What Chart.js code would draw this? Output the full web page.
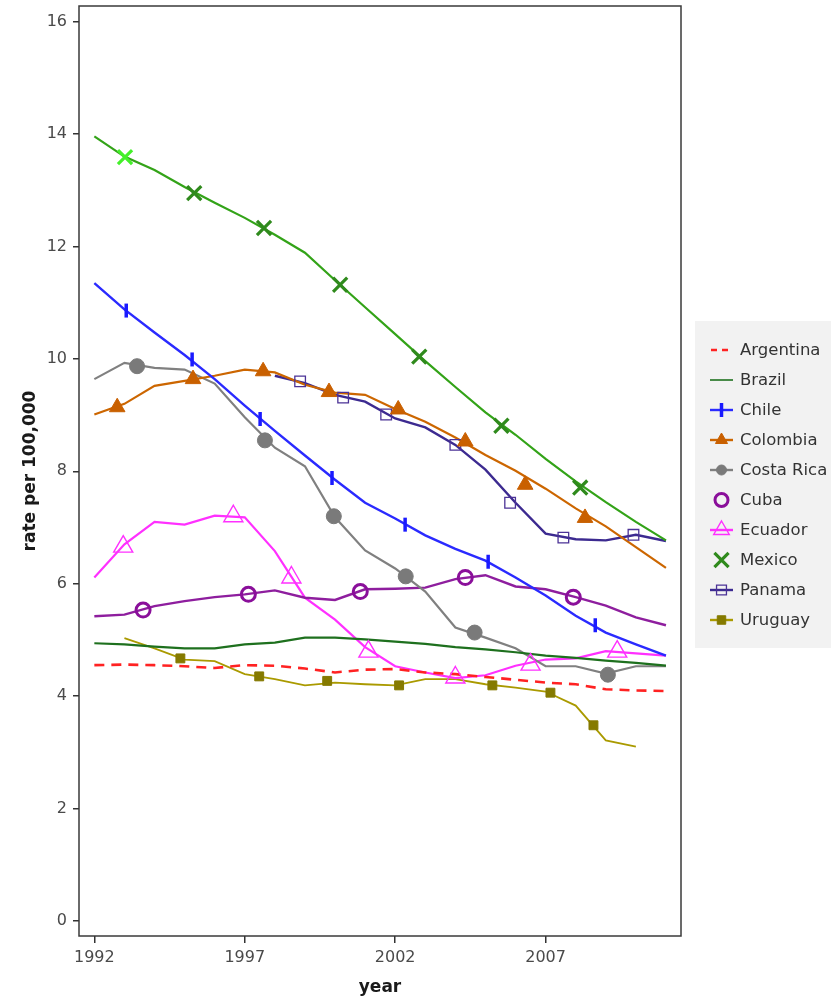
<!DOCTYPE html>
<html>
<head>
<meta charset="utf-8">
<script src="https://cdn.jsdelivr.net/npm/chart.js@4.4.1/dist/chart.umd.min.js"></script>
<style>
html, body { margin: 0; padding: 0; background: #fff; }
</style>
</head>
<body>
<canvas id="rates" width="831" height="1000"></canvas>
<script>
// data
const years = [1992,1993,1994,1995,1996,1997,1998,1999,2000,2001,2002,2003,2004,2005,2006,2007,2008,2009,2010,2011];
const yearTicks = [1992, 1997, 2002, 2007];
const rateTicks = [0, 2, 4, 6, 8, 10, 12, 14, 16];
const countries = ['Argentina','Brazil','Chile','Colombia','Costa Rica','Cuba','Ecuador','Mexico','Panama','Uruguay'];

const argentina = [4.55,4.56,4.55,4.53,4.50,4.55,4.54,4.49,4.42,4.47,4.48,4.42,4.39,4.34,4.29,4.24,4.21,4.12,4.10,4.09];
const brazil    = [4.94,4.92,4.88,4.85,4.85,4.92,4.95,5.04,5.04,5.01,4.97,4.93,4.87,4.83,4.78,4.72,4.68,4.63,4.59,4.54];
const chile     = [11.35,10.88,10.47,10.07,9.64,9.17,8.72,8.28,7.85,7.44,7.16,6.86,6.62,6.41,6.11,5.79,5.43,5.13,4.92,4.72];
const colombia  = [9.01,9.20,9.52,9.61,9.70,9.81,9.76,9.54,9.40,9.36,9.11,8.88,8.60,8.29,8.01,7.69,7.34,7.02,6.65,6.28];
const costaRica = [9.64,9.93,9.84,9.81,9.56,8.96,8.42,8.09,7.18,6.59,6.27,5.86,5.22,5.04,4.85,4.53,4.53,4.40,4.53,4.53];
const cuba      = [5.42,5.45,5.60,5.69,5.76,5.81,5.88,5.75,5.71,5.90,5.91,5.93,6.08,6.15,5.95,5.90,5.76,5.61,5.40,5.26];
const ecuador   = [6.11,6.70,7.10,7.05,7.21,7.18,6.58,5.75,5.36,4.87,4.53,4.42,4.32,4.37,4.54,4.65,4.67,4.80,4.76,4.72];
const mexico    = [13.96,13.60,13.36,13.06,12.78,12.51,12.21,11.89,11.40,10.92,10.44,9.96,9.50,9.05,8.65,8.22,7.82,7.45,7.10,6.77];
const panama    = [null,null,null,null,null,null,9.70,9.57,9.36,9.24,8.94,8.78,8.47,8.03,7.44,6.89,6.79,6.77,6.87,6.76];
const uruguay   = [null,5.03,4.85,4.65,4.62,4.39,4.30,4.19,4.24,4.21,4.19,4.30,4.30,4.21,4.15,4.08,3.83,3.21,3.10,null];

// symbol positions along the lines
const chileMarkYears     = [1993.06,1995.25,1997.51,1999.90,2002.33,2005.09,2008.65];
const chileMarkRates     = [10.86,9.99,8.93,7.88,7.05,6.39,5.26];
const colombiaMarkYears  = [1992.76,1995.28,1997.61,1999.80,2002.10,2004.33,2006.32,2008.31];
const colombiaMarkRates  = [9.14,9.64,9.78,9.41,9.10,8.53,7.76,7.17];
const costaRicaMarkYears = [1993.42,1997.67,1999.96,2002.35,2004.64,2009.07];
const costaRicaMarkRates = [9.87,8.55,7.20,6.13,5.13,4.38];
const cubaMarkYears      = [1993.62,1997.12,2000.84,2004.33,2007.92];
const cubaMarkRates      = [5.53,5.81,5.86,6.11,5.76];
const ecuadorMarkYears   = [1992.96,1996.62,1998.55,2001.11,2004.00,2006.50,2009.38];
const ecuadorMarkRates   = [6.66,7.20,6.11,4.79,4.33,4.56,4.79];
const mexicoMarkYears    = [1993.02,1995.32,1997.64,2000.17,2002.80,2005.53,2008.15];
const mexicoMarkRates    = [13.59,12.95,12.33,11.32,10.04,8.81,7.71];
const panamaMarkYears    = [1998.84,2000.27,2001.70,2004.00,2005.82,2007.59,2009.92];
const panamaMarkRates    = [9.60,9.31,9.01,8.47,7.44,6.82,6.87];
const uruguayMarkYears   = [1994.86,1997.48,1999.74,2002.13,2005.23,2007.16,2008.59];
const uruguayMarkRates   = [4.67,4.35,4.27,4.19,4.19,4.06,3.48];

const FONT = '"DejaVu Sans", Verdana, sans-serif';

const look = {
    'Argentina':  {color:'#ff2222', width:2.6, dash:[10,7], keyLine:true},
    'Brazil':     {color:'#1e701e', width:2.2, keyLine:true},
    'Chile':      {color:'#2a2aff', width:2.4, mark:'line', rot:90, r:7, mw:3.5, markColor:'#1a1aff', keyLine:true, keyR:7},
    'Colombia':   {color:'#cc6600', width:2.2, mark:'triangle', r:9, mw:1, fill:true, markColor:'#c96000', keyLine:true, keyR:7},
    'Costa Rica': {color:'#808080', width:2.2, mark:'circle', r:7.5, mw:1, fill:true, markColor:'#7a7a7a', keyLine:true, keyR:5},
    'Cuba':       {color:'#8e1e9e', width:2.4, mark:'circle', r:7, mw:3, markColor:'#8a0f9a', keyR:6.5},
    'Ecuador':    {color:'#ff30ff', width:2.2, mark:'triangle', r:11, mw:1.4, markColor:'#ff30ff', keyLine:true, keyR:9},
    'Mexico':     {color:'#33a318', width:2.2, mark:'crossRot', r:10, mw:3.2, markColor:'#2f8a1c', keyR:10},
    'Panama':     {color:'#3c2a90', width:2.4, mark:'rect', r:7.5, mw:1.3, markColor:'#4b3296', keyLine:true, keyR:7},
    'Uruguay':    {color:'#aa9a00', width:1.8, mark:'rect', r:6.3, mw:1, fill:true, markColor:'#857a00', keyLine:true, keyR:6}
};

function lineSet(name, vals) {
    const lk = look[name];
    return {
        label: name,
        data: years.map((yr, i) => ({x: yr, y: vals[i]})),
        borderColor: lk.color,
        borderWidth: lk.width,
        borderDash: lk.dash || [],
        pointRadius: 0,
        tension: 0,
        fill: false,
        order: 2
    };
}

function markSet(name, xs, ys) {
    const lk = look[name];
    return {
        label: name + ' marks',
        data: xs.map((x, i) => ({x: x, y: ys[i]})),
        showLine: false,
        pointStyle: lk.mark,
        pointRadius: lk.r,
        pointRotation: lk.rot || 0,
        pointBorderWidth: lk.mw,
        pointBorderColor: lk.markColor,
        pointBackgroundColor: lk.fill ? lk.markColor : 'rgba(0,0,0,0)',
        order: 1
    };
}

let mexMarks = markSet('Mexico', mexicoMarkYears, mexicoMarkRates);
mexMarks.pointBorderColor = c => c.dataIndex === 0 ? '#44f02a' : look['Mexico'].markColor;

const frameAndKey = {
    id: 'frameAndKey',
    afterDraw(chart) {
        const ctx = chart.ctx;
        const a = chart.chartArea;
        ctx.save();
        ctx.strokeStyle = '#3a3a3a';
        ctx.lineWidth = 1.5;
        ctx.strokeRect(a.left, a.top, a.right - a.left, a.bottom - a.top);

        ctx.fillStyle = '#f2f2f2';
        ctx.fillRect(695, 321, 136, 327);
        countries.forEach((name, i) => {
            const lk = look[name];
            const y = 350 + i * 30;
            if (lk.keyLine) {
                ctx.beginPath();
                ctx.setLineDash(lk.dash ? [6, 5] : []);
                ctx.strokeStyle = lk.color;
                ctx.lineWidth = name == 'Brazil' ? 1.6 : 2.4;
                ctx.moveTo(name == 'Argentina' ? 711 : 710, y);
                ctx.lineTo(733, y);
                ctx.stroke();
                ctx.setLineDash([]);
            }
            if (lk.mark) {
                ctx.fillStyle = lk.fill ? lk.markColor : 'rgba(0,0,0,0)';
                ctx.strokeStyle = lk.markColor;
                ctx.lineWidth = lk.mw;
                Chart.helpers.drawPoint(ctx, {pointStyle: lk.mark, radius: lk.keyR, rotation: lk.rot || 0, borderWidth: lk.mw}, 721.5, y);
            }
            ctx.fillStyle = '#333';
            ctx.font = '16.5px ' + FONT;
            ctx.textBaseline = 'middle';
            ctx.textAlign = 'left';
            ctx.fillText(name, 740, y + 1);
        });
        ctx.restore();
    }
};

new Chart(document.getElementById('rates'), {
    type: 'line',
    data: {
        datasets: [
            lineSet('Argentina', argentina),
            lineSet('Brazil', brazil),
            lineSet('Chile', chile),
            lineSet('Colombia', colombia),
            lineSet('Costa Rica', costaRica),
            lineSet('Cuba', cuba),
            lineSet('Ecuador', ecuador),
            lineSet('Mexico', mexico),
            lineSet('Panama', panama),
            lineSet('Uruguay', uruguay),
            markSet('Chile', chileMarkYears, chileMarkRates),
            markSet('Colombia', colombiaMarkYears, colombiaMarkRates),
            markSet('Costa Rica', costaRicaMarkYears, costaRicaMarkRates),
            markSet('Cuba', cubaMarkYears, cubaMarkRates),
            markSet('Ecuador', ecuadorMarkYears, ecuadorMarkRates),
            mexMarks,
            markSet('Panama', panamaMarkYears, panamaMarkRates),
            markSet('Uruguay', uruguayMarkYears, uruguayMarkRates)
        ]
    },
    options: {
        responsive: false,
        animation: false,
        events: [],
        layout: { autoPadding: false, padding: {top: 6, right: 150, bottom: 0, left: 0} },
        plugins: {
            legend: { display: false },
            tooltip: { enabled: false }
        },
        scales: {
            x: {
                type: 'linear',
                min: 1991.49,
                max: 2011.5,
                afterBuildTicks: s => { s.ticks = yearTicks.map(v => ({value: v})); },
                afterFit: s => { s.height = 64; s.paddingLeft = 0; s.paddingRight = 0; },
                grid: { drawOnChartArea: false, drawTicks: true, tickLength: 7, color: '#333', lineWidth: 1.5 },
                border: { display: false },
                ticks: { color: '#4a4a4a', font: {family: FONT, size: 16}, padding: 5, maxRotation: 0, callback: v => String(v) },
                title: { display: true, text: 'year', color: '#1a1a1a', font: {family: FONT, size: 17, weight: 'bold'}, padding: {top: 0, bottom: 2} }
            },
            y: {
                min: -0.27,
                max: 16.28,
                afterBuildTicks: s => { s.ticks = rateTicks.map(v => ({value: v})); },
                afterFit: s => { s.width = 79; s.paddingTop = 0; s.paddingBottom = 0; },
                grid: { drawOnChartArea: false, drawTicks: true, tickLength: 6, color: '#333', lineWidth: 1.5 },
                border: { display: false },
                ticks: { color: '#4a4a4a', font: {family: FONT, size: 16}, padding: 6, callback: v => String(v) },
                title: { display: true, text: 'rate per 100,000', color: '#1a1a1a', font: {family: FONT, size: 17, weight: 'bold'}, padding: {top: 20, bottom: 0} }
            }
        }
    },
    plugins: [frameAndKey]
});
</script>
</body>
</html>
